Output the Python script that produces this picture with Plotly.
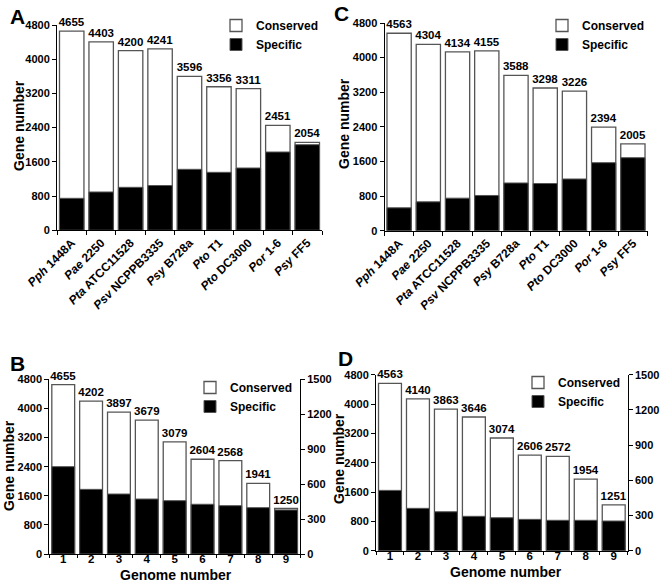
import plotly.graph_objects as go

# ---------------- data ----------------
strain_labels = ["<i>Pph</i> 1448A", "<i>Pae</i> 2250", "<i>Pta</i> ATCC11528",
                 "<i>Psv</i> NCPPB3335", "<i>Psy</i> B728a", "<i>Pto</i> T1",
                 "<i>Pto</i> DC3000", "<i>Por</i> 1-6", "<i>Psy</i> FF5"]
genome_numbers = ["1", "2", "3", "4", "5", "6", "7", "8", "9"]

A_total = [4655, 4403, 4200, 4241, 3596, 3356, 3311, 2451, 2054]
A_specific = [746, 894, 1003, 1045, 1424, 1354, 1455, 1829, 2000]

C_total = [4563, 4304, 4134, 4155, 3588, 3298, 3226, 2394, 2005]
C_specific = [529, 667, 752, 814, 1103, 1090, 1195, 1572, 1687]

B_total = [4655, 4202, 3897, 3679, 3079, 2604, 2568, 1941, 1250]
B_specific = [750, 555, 515, 472, 458, 427, 415, 398, 378]   # right axis

D_total = [4563, 4140, 3863, 3646, 3074, 2606, 2572, 1954, 1251]
D_specific = [514, 361, 332, 293, 281, 267, 259, 259, 253]   # right axis

left_ticks = [0, 800, 1600, 2400, 3200, 4000, 4800]
right_ticks = [0, 300, 600, 900, 1200, 1500]

# ---------------- style ----------------
FONT = "Liberation Sans"
W, H = 661, 585
outline = "#555555"


def fx(px):   # pixel x -> paper fraction
    return px / W


def fy(py):   # pixel y (from top) -> paper fraction
    return 1 - py / H


fig = go.Figure()


def add_panel(cats, total, specific, xa, ya, ya_spec, legend, bw):
    fig.add_trace(go.Bar(
        x=cats, y=total, name="Conserved", xaxis=xa, yaxis=ya, width=bw,
        marker=dict(color="white", line=dict(color=outline, width=1.3)),
        text=[str(v) for v in total], textposition="outside",
        textfont=dict(family=FONT, size=11.5, color="black", weight="bold"),
        constraintext="none", cliponaxis=False, legend=legend,
        offsetgroup="g", hoverinfo="skip"))
    fig.add_trace(go.Bar(
        x=cats, y=specific, name="Specific", xaxis=xa, yaxis=ya_spec, width=bw,
        marker=dict(color="black", line=dict(color=outline, width=1.0)),
        legend=legend, offsetgroup="g", hoverinfo="skip"))


add_panel(strain_labels, A_total, A_specific, "x", "y", "y", "legend", 0.83)
add_panel(strain_labels, C_total, C_specific, "x2", "y2", "y2", "legend2", 0.83)
add_panel(genome_numbers, B_total, B_specific, "x3", "y3", "y5", "legend3", 0.82)
add_panel(genome_numbers, D_total, D_specific, "x4", "y4", "y6", "legend4", 0.82)

tickf = dict(family=FONT, size=11, color="black", weight="bold")
titf = dict(family=FONT, size=14, color="black", weight="bold")

common_x = dict(type="category", tickson="boundaries", ticks="outside", ticklen=4,
                tickcolor="black", showline=True, linecolor="black", linewidth=1,
                showgrid=False, zeroline=False, range=[-0.5, 8.5], fixedrange=True,
                automargin=False)
common_y = dict(range=[0, 4800], tickvals=left_ticks, ticks="outside", ticklen=4,
                tickcolor="black", showline=True, linecolor="black", linewidth=1,
                showgrid=False, zeroline=False, tickfont=tickf, automargin=False,
                fixedrange=True)
right_y = dict(side="right", range=[0, 1500], tickvals=right_ticks, ticks="outside",
               ticklen=4, tickcolor="black", showline=True, linecolor="black",
               linewidth=1, showgrid=False, zeroline=False, tickfont=tickf,
               automargin=False, fixedrange=True)

doms = {
    "A": ([fx(57), fx(322)], [fy(230.2), fy(25)]),
    "C": ([fx(384.5), fx(647.5)], [fy(230.7), fy(23)]),
    "B": ([fx(49.3), fx(300)], [fy(554), fy(379.3)]),
    "D": ([fx(376), fx(627.7)], [fy(550.7), fy(374.7)]),
}

xlab_rot = dict(tickangle=-45, tickfont=dict(family=FONT, size=12, color="black", weight="bold"))
xlab_num = dict(ticklen=3, ticklabelstandoff=-6,
                tickfont=dict(family=FONT, size=11.5, color="black", weight="bold"))

fig.update_layout(
    xaxis=dict(domain=doms["A"][0], anchor="y", **common_x, **xlab_rot),
    yaxis=dict(domain=doms["A"][1], anchor="x", **common_y),
    xaxis2=dict(domain=doms["C"][0], anchor="y2", **common_x, **xlab_rot),
    yaxis2=dict(domain=doms["C"][1], anchor="x2", **common_y),
    xaxis3=dict(domain=doms["B"][0], anchor="y3", **{**common_x, **xlab_num}),
    yaxis3=dict(domain=doms["B"][1], anchor="x3", **common_y),
    xaxis4=dict(domain=doms["D"][0], anchor="y4", **{**common_x, **xlab_num}),
    yaxis4=dict(domain=doms["D"][1], anchor="x4", **common_y),
    yaxis5=dict(overlaying="y3", anchor="x3", **right_y),
    yaxis6=dict(overlaying="y4", anchor="x4", **right_y),
)

legfont = dict(family=FONT, size=12, color="black", weight="bold")


def leg(text_x, first_center_y):
    return dict(x=fx(text_x - 40), y=fy(first_center_y - 15), xanchor="left",
                yanchor="top", font=legfont, bgcolor="rgba(0,0,0,0)", borderwidth=0,
                tracegroupgap=0, itemclick=False, itemdoubleclick=False)


fig.update_layout(
    legend=leg(256, 26),
    legend2=leg(582, 26),
    legend3=leg(230, 388),
    legend4=leg(558, 383),
)

# panel letters
letters = [("A", 17, 16), ("C", 342, 13), ("B", 17, 363), ("D", 345, 358.5)]
for t, xp, yp in letters:
    fig.add_annotation(text=t, x=fx(xp), y=fy(yp), xref="paper", yref="paper",
                       showarrow=False, xanchor="center", yanchor="middle",
                       font=dict(family=FONT, size=21, color="black", weight="bold"))

# axis titles
ytitles = [(19, 126), (344, 124), (9, 466), (339, 459)]
for xp, yp in ytitles:
    fig.add_annotation(text="Gene number", x=fx(xp), y=fy(yp), xref="paper",
                       yref="paper", showarrow=False, textangle=-90,
                       xanchor="center", yanchor="middle", font=titf)
xtitles = [(176, 574.5), (506, 571.5)]
for xp, yp in xtitles:
    fig.add_annotation(text="Genome number", x=fx(xp), y=fy(yp), xref="paper",
                       yref="paper", showarrow=False, xanchor="center",
                       yanchor="middle", font=titf)

fig.update_layout(
    width=W, height=H, barmode="overlay", bargap=0.17,
    margin=dict(l=0, r=0, t=0, b=0, autoexpand=False),
    plot_bgcolor="white", paper_bgcolor="white",
    font=dict(family=FONT, color="black"),
    showlegend=True, hovermode=False,
)

# remove the default 8px <body> margin so the figure fills the window exactly
fig.write_html("out.html",
               config={"displayModeBar": False},
               post_script="document.body.style.margin='0';"
                           "document.body.style.overflow='hidden';")
